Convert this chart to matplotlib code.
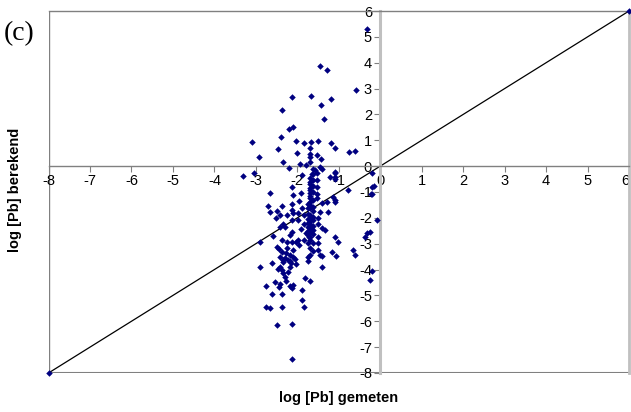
import numpy as np
import matplotlib
matplotlib.use("Agg")
import matplotlib.pyplot as plt

plt.rcParams['font.family'] = ['Liberation Sans', 'DejaVu Sans']

gemeten = [
    -1.45, -1.28, -0.58, -2.12, -1.68, -1.19, -1.42, -2.36, -1.35, -2.11, -2.21,
    -3.09, -2.39, -2.03, -1.85, -1.68, -1.51, -1.18, -1.09, -2.47, -2.93, -2.01,
    -1.52, -1.43, -2.34, -1.93, -1.79, -0.76, -0.61, -2.19, -1.40, -0.33,
    -3.32, -3.05, -1.89, -1.65, -2.66, -2.12, -2.10, -2.70, -2.38, -2.14, -2.66,
    -2.50, -2.42, -2.51, -2.26, -2.14, -2.10, -1.98, -1.85, -2.14, -2.34, -2.42,
    -2.30, -2.14, -2.18, -2.90, -2.38, -2.26, -2.14, -1.98, -1.85, -2.50, -2.26,
    -2.10, -2.38, -2.18, -2.42, -2.30, -2.10, -1.73, -2.90, -2.42, -2.18,
    -1.57, -1.45, -1.21, -1.09, -1.09, -0.77, -1.13, -1.09, -1.29, -1.41, -1.25,
    -1.45, -1.49, -1.49, -1.41, -1.33, -0.21, -0.15, -0.21, -0.07, -0.33, -0.25,
    -0.37, -1.09, -1.01, -1.49, -1.49, -1.49, -1.45, -1.17, -0.65, -0.61, -1.41,
    -0.21, -0.23, -1.09, -1.09, -1.09,
    -2.62, -2.46, -2.38, -2.34, -2.22, -2.30, -2.54, -2.42, -2.43, -2.27, -2.18,
    -2.11, -2.14, -2.76, -2.62, -2.36, -2.03, -1.88, -1.81, -1.69, -1.89, -1.85,
    -2.76, -2.66, -2.36, -2.48, -2.14, -2.12, -0.21, -0.25, -2.34, -2.18, -1.40,
    -1.06,
    -1.69, -1.69, -1.69, -1.69, -1.69, -1.69, -1.69, -1.69, -1.69, -1.69, -1.69,
    -1.69, -1.69, -1.69, -1.69, -1.69, -1.69, -1.69, -1.69, -1.69, -1.69, -1.69,
    -1.69, -1.69, -1.69,
    -1.62, -1.62, -1.62, -1.62, -1.62, -1.62, -1.62, -1.62, -1.62, -1.62, -1.62,
    -1.62, -1.62, -1.62, -1.62,
    -1.53, -1.53, -1.53, -1.53, -1.53,
    -1.75, -1.75, -1.75, -1.75, -1.75, -1.75, -1.75, -1.75, -1.75, -1.75, -1.75,
    -1.95, -1.88, -1.98, -1.85, -1.90, -1.80, -1.97, -2.35, -2.22, -2.05, -2.15,
    -2.02, -2.28, -2.45, -2.58, -1.92,
    -8.0, 6.0,
]
berekend = [
    3.87, 3.71, 2.94, 2.67, 2.71, 2.59, 2.36, 2.17, 1.83, 1.52, 1.44,
    0.93, 1.13, 0.99, 0.88, 0.95, 0.99, 0.88, 0.70, 0.65, 0.35, 0.49,
    0.45, 0.26, 0.15, 0.10, 0.05, 0.54, 0.57, -0.09, -0.13, 5.32,
    -0.37, -0.25, -0.35, -0.31, -1.02, -0.80, -1.12, -1.55, -1.55, -1.48, -1.79,
    -1.73, -1.89, -2.02, -1.89, -1.70, -1.83, -1.83, -1.89, -2.09, -2.22, -2.35,
    -2.35, -2.54, -2.67, -2.93, -2.86, -2.93, -2.93, -2.86, -2.86, -3.12, -3.18,
    -3.25, -3.31, -3.44, -3.51, -3.57, -3.51, -2.73, -3.92, -3.89, -3.89,
    -0.15, -0.03, -0.41, -0.22, -0.41, -0.93, -1.19, -1.38, -1.38, -1.44, -1.77,
    -1.77, -2.02, -2.22, -2.41, -2.47, -0.26, -0.77, -1.06, -2.09, -2.60, -2.54,
    -2.76, -2.73, -2.93, -2.73, -2.99, -3.25, -3.44, -3.31, -3.25, -3.44, -3.92,
    -0.80, -1.08, -1.31, -0.26, -0.48,
    -3.76, -3.96, -4.02, -4.15, -4.09, -4.28, -4.47, -4.54, -4.67, -4.45, -4.63,
    -4.60, -4.71, -4.64, -4.95, -4.96, -3.79, -4.80, -4.32, -4.44, -5.18, -5.44,
    -5.44, -5.50, -5.46, -6.15, -6.10, -7.46, -4.06, -4.41, -3.64, -3.67, -3.47,
    -3.47,
    0.72, 0.46, 0.34, 0.17, -0.46, -0.62, -0.70, -0.85, -0.93, -1.05, -1.16,
    -1.24, -1.40, -1.52, -1.63, -1.88, -2.14, -2.25, -2.41, -2.55, -2.73, -2.86,
    -3.18, -3.44, -2.02,
    -0.10, -0.31, -0.52, -0.78, -1.00, -1.30, -1.58, -1.72, -1.95, -2.10, -2.33,
    -2.48, -2.62, -2.99, -3.30,
    -0.27, -0.54, -0.81, -1.06, -1.22,
    -1.45, -1.62, -1.85, -2.05, -2.20, -2.35, -2.50, -2.65, -2.99, -3.51, -3.65,
    -1.35, -1.60, -2.10, -2.25, -2.45, -2.60, -3.05, -3.70, -3.62, -3.60, -3.75,
    -2.95, -3.35, -3.20, -2.70, -1.05,
    -8.0, 6.0,
]
lijn = [-8, 6]
ticks = np.arange(-8, 7, 1)

fig = plt.figure(figsize=(6.31, 4.12), dpi=100)
ax = fig.add_axes([0.0769, 0.0947, 0.920, 0.8786])

ax.plot(lijn, lijn, color='black', lw=0.9, zorder=2)
ax.scatter(gemeten, berekend, marker='D', s=11, color='#000080', lw=0, zorder=3, clip_on=False)

ax.set_xlim(-8, 6)
ax.set_ylim(-8, 6)

ax.spines['left'].set_position(('data', 0))
ax.spines['bottom'].set_position(('data', 0))
ax.spines['left'].set_color('#c0c0c0')
ax.spines['left'].set_linewidth(2.2)
ax.spines['bottom'].set_color('#808080')
ax.spines['bottom'].set_linewidth(1)
ax.spines['top'].set_color('#808080')
ax.spines['top'].set_linewidth(1)
ax.spines['right'].set_color('#c0c0c0')
ax.spines['right'].set_linewidth(2)

# plot area frame on the left and bottom
ax.axvline(-8, color='#808080', lw=1, zorder=1)
ax.axhline(-8, color='#808080', lw=1.5, zorder=1)

ax.set_xticks(ticks)
ax.set_yticks(ticks)
ax.set_xticklabels([str(t) for t in ticks])
ax.set_yticklabels([str(t) for t in ticks])
ax.tick_params(axis='x', direction='out', length=4, color='#808080', labelsize=10.5, pad=2)
ax.tick_params(axis='y', direction='out', length=4, color='#808080', labelsize=10.5, pad=2)
# last x label sits against the right edge
ax.get_xticklabels()[-1].set_horizontalalignment('right')

fig.text(0.537, 0.035, 'log [Pb] gemeten', ha='center', va='center', fontsize=10.5, fontweight='bold')
fig.text(0.023, 0.54, 'log [Pb] berekend', ha='center', va='center', fontsize=10.5,
         fontweight='bold', rotation=90)
fig.text(0.006, 0.918, '(c)', ha='left', va='center', fontsize=20, family='Liberation Serif')

fig.savefig('out.png', dpi=100)
